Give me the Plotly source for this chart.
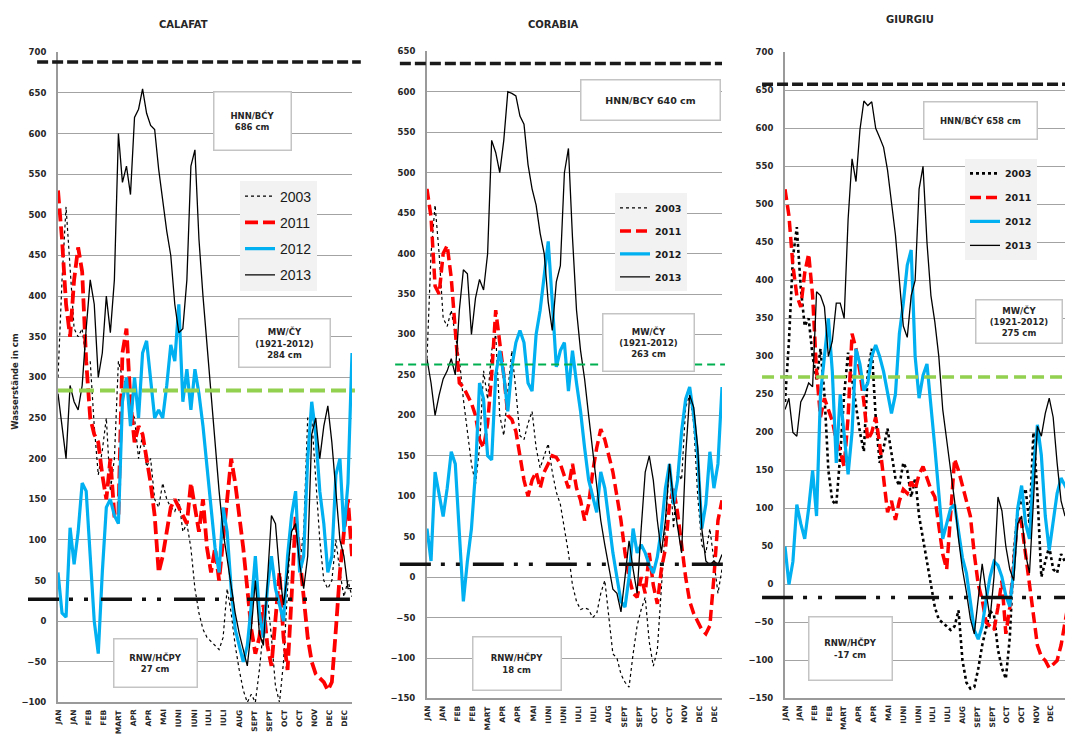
import plotly.graph_objects as go

W, H = 1065, 738

# sampling dates: day of year, every 5 days
DAYS = list(range(0, 366, 5))

MONTH_LABELS = ["JAN", "JAN", "FEB", "FEB", "MART", "APR", "APR", "MAI", "IUNI", "IUNI",
                "IULI", "IULI", "AUG", "SEPT", "SEPT", "OCT", "OCT", "NOV", "DEC", "DEC"]
TICK_DAYS = [0, 18.75, 37.5, 56.25, 75, 93.75, 112.5, 131.25, 150, 168.75,
             187.5, 206.25, 225, 243.75, 262.5, 281.25, 300, 318.75, 337.5, 356.25]

YEARS = ["2003", "2011", "2012", "2013"]

# ---------------- CALAFAT (cm) ----------------
CAL_2003 = [300, 420, 510, 440, 360, 350, 360, 320, 320, 240,
            180, 210, 250, 160, 200, 320, 300, 290, 260, 250,
            200, 230, 190, 200, 150, 140, 170, 150, 140, 135,
            150, 110, 120, 90, 40, 10, -10, -20, -25, -30,
            -35, -20, 40, 10, -30, -60, -85, -100, -90, -100,
            -60, -10, 30, -20, -80, -100, -50, 40, 130, 160,
            70, 110, 250, 250, 180, 100, 50, 40, 50, 100,
            60, 30, 50, 30]
CAL_2011 = [530, 470, 390, 350, 420, 460, 430, 320, 250, 230,
            220, 180, 150, 200, 130, 130, 330, 360, 270, 220,
            240, 230, 200, 170, 130, 60, 80, 110, 140, 150,
            140, 130, 120, 170, 140, 110, 150, 90, 60, 90,
            50, 100, 150, 200, 170, 130, 90, 40, -10, -40,
            -20, 20, -30, -55, 10, 60, -20, -60, 30, 130,
            80, 30, -20, -50, -65, -70, -75, -85, -75, -10,
            60, 110, 150, 80]
CAL_2012 = [60, 10, 5, 115, 70, 110, 170, 160, 80, 0,
            -40, 60, 140, 150, 130, 120, 270, 300, 240, 300,
            250, 330, 345, 300, 250, 260, 250, 290, 340, 320,
            390, 270, 310, 260, 310, 280, 240, 190, 140, 90,
            60, 140, 110, 40, -10, -30, -50, -30, 20, 80,
            10, -20, 40, 80, 40, 20, 0, 80, 130, 160,
            60, 80, 200, 270, 230, 160, 120, 60, 80, 180,
            200, 110, 170, 330]
CAL_2013 = [280, 240, 200, 290, 270, 260, 290, 360, 420, 390,
            300, 330, 400, 355, 420, 600, 540, 560, 525, 620,
            630, 655, 625, 610, 605, 556, 519, 480, 450, 390,
            355, 360, 420, 560, 580, 470, 400, 340, 270, 210,
            160, 110, 75, 40, 10, -15, -35, -55, -10, 50,
            -15, -30, 50, 130, 120, 60, 20, 60, 110, 120,
            70, 40, 80, 230, 250, 200, 240, 265, 220, 160,
            100, 80, 40, 40]

# ---------------- CORABIA (cm) ----------------
COR_2003 = [270, 400, 460, 400, 320, 310, 330, 300, 270, 220,
            180, 140, 115, 160, 255, 220, 280, 300, 200, 175,
            230, 280, 230, 175, 170, 190, 205, 160, 135, 150,
            165, 130, 105, 90, 60, 30, -10, -30, -40, -38,
            -40, -50, -45, -20, -4, -50, -95, -100, -120, -130,
            -136, -95, -60, -40, -25, -80, -110, -90, -10, 70,
            140, 60, 130, 120, 210, 225, 190, 100, 40, 30,
            60, 20, -20, 10]
COR_2011 = [480, 445, 360, 350, 400, 410, 370, 300, 240, 235,
            225, 215, 200, 170, 160, 190, 250, 330, 290, 250,
            200, 195, 180, 150, 120, 100, 120, 130, 110, 130,
            140, 150, 148, 140, 125, 110, 140, 110, 95, 70,
            90, 130, 160, 183, 170, 150, 130, 100, 70, 30,
            0, -20, -25, 0, -20, 30, -10, -33, 10, 35,
            90, 110, 80, 40, 0, -30, -45, -55, -65, -70,
            -60, 0, 70, 95]
COR_2012 = [60, 20, 130, 100, 75, 110, 155, 140, 60, -30,
            20, 60, 130, 240, 220, 150, 145, 250, 280, 250,
            205, 260, 290, 305, 290, 240, 230, 300, 330, 370,
            415, 340, 260, 280, 290, 230, 280, 240, 205, 160,
            120, 100, 80, 130, 110, 70, 30, 0, -30, -37,
            0, 60, 30, 40, 30, 15, 5, 25, 60, 110,
            140, 90, 120, 180, 220, 235, 200, 150, 60, 90,
            155, 110, 140, 235]
COR_2013 = [270, 240, 200, 225, 245, 255, 270, 250, 330, 380,
            375, 300, 345, 368, 355, 400, 540, 525, 500, 540,
            600, 598, 595, 570, 560, 510, 480, 460, 425, 400,
            340, 305, 365, 385, 500, 530, 420, 330, 280, 245,
            200, 155, 110, 70, 40, 10, -15, -20, -43, 0,
            45, 10, -20, 60, 130, 150, 120, 70, 30, 70,
            140, 95, 60, 30, 150, 225, 210, 160, 60, 20,
            15, 20, 15, 28]

# ---------------- GIURGIU (cm) ----------------
GIU_2003 = [240, 320, 430, 470, 390, 340, 350, 300, 270, 310,
            250, 150, 110, 105, 170, 250, 305, 270, 240, 200,
            175, 280, 310, 220, 160, 180, 205, 170, 140, 130,
            160, 150, 115, 140, 90, 60, 30, 0, -30, -46,
            -50, -55, -60, -55, -34, -100, -129, -137, -135, -111,
            -80, -59, -35, -40, -86, -110, -124, -70, 40, 97,
            110, 126, 80, 200, 120, 10, 30, 50, 20, 15,
            40, 30, 20, 20]
GIU_2011 = [520, 485, 420, 380, 365, 410, 435, 380, 280, 220,
            245, 230, 215, 190, 175, 155, 220, 330, 310, 280,
            240, 190, 200, 220, 185, 140, 95, 110, 85, 110,
            125, 120, 135, 125, 145, 155, 140, 125, 115, 80,
            40, 20, 90, 165, 150, 130, 110, 90, 40, 0,
            -20, -50, -55, -60, -30, 5, -65, -30, 27, 90,
            80, 40, 0, -40, -80, -95, -100, -110, -105, -100,
            -80, -50, -20, 0]
GIU_2012 = [50, 0, 30, 105, 80, 60, 100, 150, 90, 250,
            300, 350, 280, 160, 250, 200, 145, 200, 310, 290,
            255, 265, 300, 315, 300, 280, 255, 225, 250, 330,
            370, 420, 440, 300, 245, 275, 290, 240, 180, 120,
            60, 80, 100, 105, 70, 35, 15, -20, -60, -72,
            -55, -20, 10, 30, 25, 10, -15, -29, 20, 100,
            130, 80, 60, 150, 210, 170, 90, 45, 80, 120,
            140, 130, 120, 110]
GIU_2013 = [230, 245, 200, 195, 240, 250, 265, 260, 385, 380,
            365, 300, 320, 370, 370, 350, 480, 560, 530, 598,
            636, 630, 635, 600, 588, 575, 545, 500, 460, 400,
            340, 325, 380, 400, 520, 550, 450, 380, 345, 300,
            230, 190, 150, 110, 60, 20, -10, -45, -65, -20,
            27, -10, -45, 10, 115, 97, 50, 20, 5, 80,
            90, 40, 15, 110, 208, 195, 225, 245, 220, 160,
            110, 90, 100, 120]

# reference water levels (cm): HNN, MW, RNW
CAL_REF = [688, 284, 27]
COR_REF = [635, 263, 16]
GIU_REF = [658, 273, -17]

CAL_LABELS = ["HNN/BĆY<br>686 cm", "MW/ČY<br>(1921-2012)<br>284 cm", "RNW/HČPY<br>27 cm"]
COR_LABELS = ["HNN/BCY 640 cm", "MW/ČY<br>(1921-2012)<br>263 cm", "RNW/HČPY<br>18 cm"]
GIU_LABELS = ["HNN/BĆY 658 cm", "MW/ČY<br>(1921-2012)<br>275 cm", "RNW/HČPY<br>-17 cm"]

TXT = "#262626"
GRID = "#a3a3a3"
FONT = "DejaVu Sans"
LEGFONT = "Liberation Sans"


def px_x(p):
    return p / W


def px_y(p):
    return 1 - p / H


panels = [
    dict(title="CALAFAT", tx=183, ty=20, ax="", data=[CAL_2003, CAL_2011, CAL_2012, CAL_2013],
         xd=(58, 352), yd=(48, 707), yr=(-100, 700), xr=(0, 365), ref=CAL_REF, labels=CAL_LABELS,
         legend="legend", dot_w=1.2, red_w=3.8, red_dash="13px,5px",
         mw_col="#92d050", mw_w=4, mw_dash="15px,6px",
         hnn_x=(-0.071, 1.03), mw_x=(0.0, 1.01), rnw_x=(-0.102, 0.993),
         boxes=[(252.5, 118, 79, 60, 8.5), (284.5, 343, 93, 50, 8.5), (155.5, 667, 85, 50, 8.5)],
         leg=(240, 178), legfont=dict(family=LEGFONT, size=14, weight="normal"), leggap=5),
    dict(title="CORABIA", tx=553, ty=20, ax="2", data=[COR_2003, COR_2011, COR_2012, COR_2013],
         xd=(427, 722), yd=(47, 703), yr=(-150, 650), xr=(0, 365), ref=COR_REF, labels=COR_LABELS,
         legend="legend2", dot_w=1.2, red_w=3.5, red_dash="11px,5px",
         mw_col="#00b050", mw_w=2, mw_dash="8px,5px",
         hnn_x=(-0.092, 1.0), mw_x=(-0.108, 1.01), rnw_x=(-0.092, 1.017),
         boxes=[(650.5, 96, 141, 42, 9.5), (648.5, 342.5, 93, 59, 8.5), (517, 667.5, 90, 55, 8.5)],
         leg=(615, 191), legfont=dict(family=FONT, size=9.5, weight="bold"), leggap=4),
    dict(title="GIURGIU", tx=910, ty=15, ax="3", data=[GIU_2003, GIU_2011, GIU_2012, GIU_2013],
         xd=(785, 1065), yd=(48, 703), yr=(-150, 700), xr=(0, 355), ref=GIU_REF, labels=GIU_LABELS,
         legend="legend3", dot_w=2.6, red_w=3.5, red_dash="11px,5px",
         mw_col="#92d050", mw_w=3.5, mw_dash="12px,6px",
         hnn_x=(-0.082, 1.0), mw_x=(-0.082, 1.0), rnw_x=(-0.082, 1.0),
         boxes=[(980.5, 117.5, 115, 39, 8.5), (1019, 320.5, 88, 45, 8.5), (850.5, 652.5, 85, 65, 8.5)],
         leg=(965, 156), legfont=dict(family=FONT, size=9.5, weight="bold"), leggap=5),
]

fig = go.Figure()
annotations = []
shapes = []
layout = {}

for p in panels:
    xa = "x" + p["ax"]
    ya = "y" + p["ax"]
    styles = [
        dict(color="#000000", width=p["dot_w"], dash="dot"),
        dict(color="#ff0000", width=p["red_w"], dash=p["red_dash"]),
        dict(color="#00b0f0", width=3.2, dash="solid"),
        dict(color="#000000", width=1.3, dash="solid"),
    ]
    for i, (yr_, vals) in enumerate(zip(YEARS, p["data"])):
        fig.add_trace(go.Scatter(
            x=DAYS, y=vals, mode="lines", name=yr_, line=styles[i],
            xaxis=xa, yaxis=ya, legend=p["legend"], legendgroup=p["legend"] + yr_,
            showlegend=True, hoverinfo="skip"))

    xkey = "xaxis" + p["ax"]
    ykey = "yaxis" + p["ax"]
    layout[xkey] = dict(
        domain=[px_x(p["xd"][0]), px_x(p["xd"][1])], anchor=ya, range=list(p["xr"]),
        tickmode="array", tickvals=TICK_DAYS, ticktext=MONTH_LABELS, showticklabels=False,
        showgrid=False, zeroline=False, showline=True, linecolor="#9a9a9a", linewidth=2,
        ticks="", fixedrange=True)
    layout[ykey] = dict(
        domain=[px_y(p["yd"][1]), px_y(p["yd"][0])], anchor=xa, range=list(p["yr"]),
        dtick=50, tick0=0, showgrid=True, gridcolor=GRID, gridwidth=1.3, zeroline=False,
        showline=True, linecolor="#9a9a9a", linewidth=2, ticks="", ticklabelstandoff=8,
        tickfont=dict(family=FONT, size=8.5, color=TXT, weight="bold"), fixedrange=True)

    # rotated month labels under the x axis, positioned on the axis' own scale
    for d, lab in zip(TICK_DAYS, MONTH_LABELS):
        if d > p["xr"][1]:
            continue
        annotations.append(dict(text="<b>" + lab + "</b>", xref=xa, yref="paper",
                                x=d, y=px_y(p["yd"][1] + 5), xanchor="center", yanchor="top",
                                textangle=-90, showarrow=False,
                                font=dict(family=FONT, size=7.5, color=TXT)))

    # legend
    layout[p["legend"]] = dict(
        x=px_x(p["leg"][0]), y=px_y(p["leg"][1]), xref="paper", yref="paper",
        xanchor="left", yanchor="top", bgcolor="#f2f2f2", borderwidth=0,
        font=dict(color="#1a1a1a", **p["legfont"]),
        tracegroupgap=p["leggap"], itemwidth=30)

    # reference lines
    hnn, mw, rnw = p["ref"]
    shapes.append(dict(type="line", xref=xa + " domain", yref=ya, x0=p["hnn_x"][0], x1=p["hnn_x"][1],
                       y0=hnn, y1=hnn, line=dict(color="#1a1a1a", width=3.5, dash="11px,4px")))
    shapes.append(dict(type="line", xref=xa + " domain", yref=ya, x0=p["mw_x"][0], x1=p["mw_x"][1],
                       y0=mw, y1=mw, line=dict(color=p["mw_col"], width=p["mw_w"], dash=p["mw_dash"])))
    shapes.append(dict(type="line", xref=xa + " domain", yref=ya, x0=p["rnw_x"][0], x1=p["rnw_x"][1],
                       y0=rnw, y1=rnw,
                       line=dict(color="#111111", width=3.5, dash="31px,10px,4px,11px,4px,13px")))

    # title
    annotations.append(dict(text="<b>" + p["title"] + "</b>", xref="paper", yref="paper",
                            x=px_x(p["tx"]), y=px_y(p["ty"]), xanchor="center", yanchor="middle",
                            showarrow=False, font=dict(family=FONT, size=10, color=TXT)))
    # text boxes
    for lab, (cx, cy, bw, bh, fs) in zip(p["labels"], p["boxes"]):
        annotations.append(dict(text="<b>" + lab + "</b>", xref="paper", yref="paper",
                                x=px_x(cx), y=px_y(cy), xanchor="center", yanchor="middle",
                                width=bw - 3, height=bh - 3, align="center", valign="middle",
                                showarrow=False, bgcolor="#ffffff", bordercolor="#c4c4c4",
                                borderwidth=1.5, borderpad=0,
                                font=dict(family=FONT, size=fs, color=TXT)))

annotations.append(dict(text="<b>Wasserstände in cm</b>", xref="paper", yref="paper",
                        x=px_x(15), y=px_y(382), xanchor="center", yanchor="middle",
                        textangle=-90, showarrow=False,
                        font=dict(family=FONT, size=8.5, color=TXT)))

fig.update_layout(
    width=W, height=H, autosize=False,
    margin=dict(l=0, r=0, t=0, b=0),
    paper_bgcolor="#ffffff", plot_bgcolor="#ffffff",
    annotations=annotations, shapes=shapes, **layout)

fig.write_html("out.html")
